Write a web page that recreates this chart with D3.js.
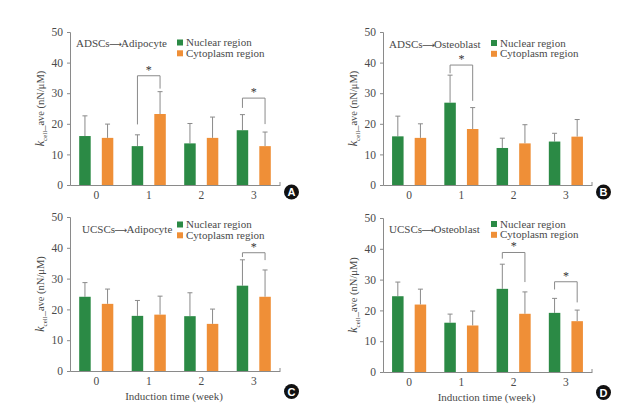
<!DOCTYPE html>
<html><head><meta charset="utf-8">
<script src="https://cdn.jsdelivr.net/npm/d3@7"></script>
<style>
body{margin:0;background:#fff;}
</style></head>
<body>
<svg id="chart" width="635" height="414" style="font-family:'Liberation Serif','Times New Roman',serif"></svg>
<script>
const weeks = ["0", "1", "2", "3"];
const seriesNames = ["Nuclear region", "Cytoplasm region"];
const yTicks = [0, 10, 20, 30, 40, 50];

const titleA = ["ADSCs", "Adipocyte"];
const nuclearA = [16.0, 12.7, 13.6, 17.9];
const nuclearSdA = [6.6, 3.7, 6.5, 5.1];
const cytoA = [15.4, 23.2, 15.4, 12.7];
const cytoSdA = [4.5, 7.3, 6.8, 4.6];
const sigA = [{week: "1", top: 35.7, left: 19.8, right: 31.5}, {week: "3", top: 28.4, left: 25.2, right: 19.9}];

const titleB = ["ADSCs", "Osteoblast"];
const nuclearB = [15.9, 26.9, 12.1, 14.2];
const nuclearSdB = [6.6, 9.0, 3.2, 2.7];
const cytoB = [15.4, 18.3, 13.6, 15.8];
const cytoSdB = [4.6, 7.0, 6.1, 5.6];
const sigB = [{week: "1", top: 39.2, left: 36.5, right: 27.5}];

const titleC = ["UCSCs", "Adipocyte"];
const nuclearC = [24.1, 17.9, 17.8, 27.7];
const nuclearSdC = [4.6, 5.0, 7.6, 8.4];
const cytoC = [21.8, 18.3, 15.3, 24.1];
const cytoSdC = [4.8, 6.0, 4.8, 8.7];
const sigC = [{week: "3", top: 38.4, left: 37.0, right: 36.0}];

const titleD = ["UCSCs", "Osteoblast"];
const nuclearD = [24.6, 16.0, 27.0, 19.2];
const nuclearSdD = [4.6, 2.8, 8.0, 4.7];
const cytoD = [21.9, 15.1, 18.9, 16.5];
const cytoSdD = [5.0, 4.7, 7.1, 3.6];
const sigD = [{week: "2", top: 38.8, left: 36.8, right: 29.2}, {week: "3", top: 29.3, left: 26.8, right: 22.6}];

const colors = ["#2b8a45", "#ef8f37"];
const axisColor = "#8a8a8a";
const textColor = "#4a4a4a";
const SERIF = "'Liberation Serif','Times New Roman',serif";

const panels = [
  {letter: "A", title: titleA, vals: [nuclearA, cytoA], sds: [nuclearSdA, cytoSdA], sig: sigA,
   x0: 70, x1: 280, y0: 185, y1: 32, titleX: 76, titleY: 47, legX: 177, legY: 46, xlabel: false},
  {letter: "B", title: titleB, vals: [nuclearB, cytoB], sds: [nuclearSdB, cytoSdB], sig: sigB,
   x0: 383, x1: 592, y0: 185, y1: 32, titleX: 389, titleY: 47.5, legX: 491, legY: 46.5, xlabel: false},
  {letter: "C", title: titleC, vals: [nuclearC, cytoC], sds: [nuclearSdC, cytoSdC], sig: sigC,
   x0: 70, x1: 280, y0: 371, y1: 217, titleX: 82, titleY: 233, legX: 177, legY: 228, xlabel: true},
  {letter: "D", title: titleD, vals: [nuclearD, cytoD], sds: [nuclearSdD, cytoSdD], sig: sigD,
   x0: 383, x1: 592, y0: 372, y1: 218, titleX: 389, titleY: 233, legX: 491, legY: 227.5, xlabel: true}
];

const svg = d3.select("#chart");

panels.forEach(p => {
  const g = svg.append("g");
  const x = d3.scaleBand().domain(weeks).range([p.x0, p.x1]);
  const y = d3.scaleLinear().domain([0, 50]).range([p.y0, p.y1]);
  const off = 11.3, bw = 11.5;

  // axes
  const yAxis = g.append("g").attr("transform", `translate(${p.x0},0)`)
    .call(d3.axisLeft(y).tickValues(yTicks).tickSize(3).tickPadding(4));
  const xAxis = g.append("g").attr("transform", `translate(0,${p.y0})`)
    .call(d3.axisBottom(x).tickSize(0).tickPadding(6));
  [yAxis, xAxis].forEach(a => {
    a.attr("font-family", SERIF).attr("font-size", 11.5);
    a.selectAll("path,line").attr("stroke", axisColor).attr("stroke-width", 1);
    a.selectAll("text").attr("fill", textColor);
  });
  g.append("line").attr("x1", p.x1).attr("x2", p.x1).attr("y1", p.y0).attr("y2", p.y0 - 3)
    .attr("stroke", axisColor);

  // bars + error bars
  p.vals.forEach((vals, si) => {
    const dx = si === 0 ? -off : off;
    const data = weeks.map((w, i) => ({w, v: vals[i], sd: p.sds[si][i]}));
    const cx = d => x(d.w) + x.bandwidth() / 2 + dx;
    g.selectAll(null).data(data).enter().append("line")
      .attr("x1", cx).attr("x2", cx)
      .attr("y1", d => y(d.v)).attr("y2", d => y(d.v + d.sd))
      .attr("stroke", axisColor).attr("stroke-width", 1);
    g.selectAll(null).data(data).enter().append("line")
      .attr("x1", d => cx(d) - 2.5).attr("x2", d => cx(d) + 2.5)
      .attr("y1", d => y(d.v + d.sd)).attr("y2", d => y(d.v + d.sd))
      .attr("stroke", axisColor).attr("stroke-width", 1);
    g.selectAll(null).data(data).enter().append("rect")
      .attr("x", d => cx(d) - bw / 2).attr("width", bw)
      .attr("y", d => y(d.v)).attr("height", d => y(0) - y(d.v))
      .attr("fill", colors[si]);
  });

  // significance brackets
  p.sig.forEach(s => {
    const lx = x(s.week) + x.bandwidth() / 2 - off;
    const rx = x(s.week) + x.bandwidth() / 2 + off;
    g.append("path")
      .attr("d", `M${lx},${y(s.left)}V${y(s.top)}H${rx}V${y(s.right)}`)
      .attr("fill", "none").attr("stroke", axisColor).attr("stroke-width", 1);
    g.append("text").attr("x", (lx + rx) / 2).attr("y", y(s.top) - 2)
      .attr("text-anchor", "middle").attr("fill", "#333")
      .attr("font-family", SERIF).attr("font-size", 12).text("*");
  });

  // title
  const t = g.append("text").attr("x", p.titleX).attr("y", p.titleY)
    .attr("fill", textColor).attr("font-family", SERIF).attr("font-size", 11);
  t.append("tspan").text(p.title[0]);
  t.append("tspan").attr("font-family", "'DejaVu Sans',sans-serif").attr("font-size", 9)
    .attr("dx", -0.5).text("\u27F6");
  t.append("tspan").attr("dx", -1).text(p.title[1]);

  // legend
  seriesNames.forEach((n, i) => {
    const base = p.legY + i * 10.8;
    g.append("rect").attr("x", p.legX).attr("y", base - 6.5).attr("width", 6).attr("height", 6)
      .attr("fill", colors[i]);
    g.append("text").attr("x", p.legX + 9).attr("y", base)
      .attr("fill", textColor).attr("font-family", SERIF).attr("font-size", 11).text(n);
  });

  // y label
  const yl = g.append("text")
    .attr("transform", `translate(${p.x0 - 26},${(p.y0 + p.y1) / 2}) rotate(-90)`)
    .attr("text-anchor", "middle").attr("fill", textColor)
    .attr("font-family", SERIF).attr("font-size", 10.5);
  yl.append("tspan").attr("font-style", "italic").attr("font-size", 12).text("k");
  yl.append("tspan").attr("dy", 2.5).attr("font-size", 7).text("cell");
  yl.append("tspan").attr("dy", -2.5).text("_ave (nN/\u03bcM)");

  // x label
  if (p.xlabel) {
    g.append("text").attr("x", (p.x0 + p.x1) / 2 - 1).attr("y", p.y0 + 29)
      .attr("text-anchor", "middle").attr("fill", textColor)
      .attr("font-family", SERIF).attr("font-size", 11).text("Induction time (week)");
  }

  // badge
  const bx = p.x1 + 11.5, by = p.y0 + (p.letter === "A" || p.letter === "B" ? 7 : 20.5);
  g.append("circle").attr("cx", bx).attr("cy", by).attr("r", 7.5).attr("fill", "#111");
  g.append("text").attr("x", bx).attr("y", by + 4).attr("text-anchor", "middle")
    .attr("fill", "#fff").attr("font-family", "'Liberation Sans',Arial,sans-serif")
    .attr("font-weight", "bold").attr("font-size", 11).text(p.letter);
});
</script>
</body></html>
